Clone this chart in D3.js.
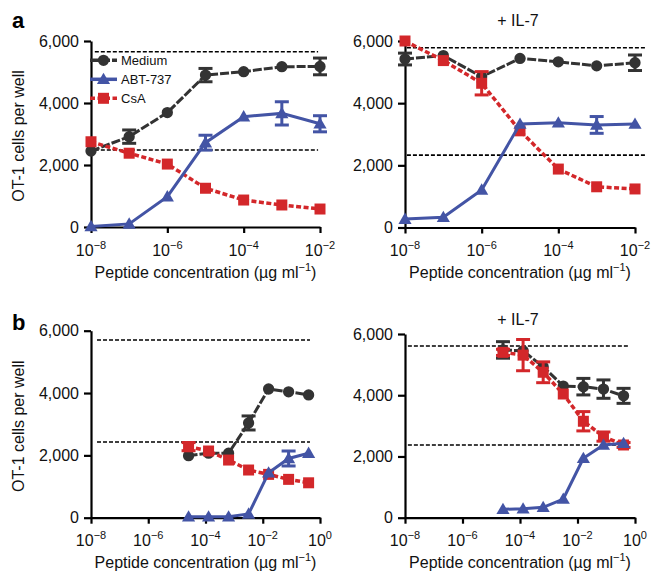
<!DOCTYPE html>
<html>
<head>
<meta charset="utf-8">
<script src="https://cdn.jsdelivr.net/npm/d3@7"></script>
<style>
  body { margin: 0; background: #fff; }
  svg { display: block; font-family: "Liberation Sans", Arial, Helvetica, sans-serif; }
</style>
</head>
<body>
<script>
// dose series (peptide concentration, ug/ml)
const xA = [1e-8, 1e-7, 1e-6, 1e-5, 1e-4, 1e-3, 1e-2];
const xB = [2.56e-5, 1.28e-4, 6.4e-4, 3.2e-3, 0.016, 0.08, 0.4];

// panel a, no cytokine
const aMedium    = [2450, 2915, 3690, 4900, 5010, 5170, 5180];
const aMediumErr = [0, 215, 0, 215, 0, 0, 270];
const aAbt       = [20, 100, 980, 2720, 3560, 3665, 3330];
const aAbtErr    = [0, 0, 0, 240, 0, 375, 260];
const aCsa       = [2750, 2380, 2030, 1250, 870, 710, 580];
const aCsaErr    = [0, 0, 0, 0, 0, 0, 0];
const aRef       = [5655, 2485];

// panel a, + IL-7
const aIlMedium    = [5420, 5530, 4850, 5440, 5330, 5200, 5300];
const aIlMediumErr = [190, 0, 0, 0, 0, 0, 250];
const aIlAbt       = [270, 330, 1210, 3330, 3370, 3300, 3330];
const aIlAbtErr    = [0, 0, 0, 0, 0, 270, 0];
const aIlCsa       = [6000, 5370, 4640, 3110, 1880, 1310, 1240];
const aIlCsaErr    = [0, 0, 375, 0, 0, 0, 0];
const aIlRef       = [5785, 2330];

// panel b, no cytokine
const bMedium    = [1990, 2070, 2070, 3040, 4130, 4040, 3940];
const bMediumErr = [0, 0, 0, 225, 0, 0, 0];
const bAbt       = [30, 30, 30, 120, 1440, 1900, 2070];
const bAbtErr    = [0, 0, 0, 0, 0, 240, 0];
const bCsa       = [2280, 2140, 1850, 1530, 1390, 1230, 1120];
const bCsaErr    = [130, 0, 0, 0, 0, 0, 0];
const bRef       = [5700, 2430];

// panel b, + IL-7
const bIlMedium    = [5480, 5450, 4930, 4300, 4280, 4200, 3980];
const bIlMediumErr = [270, 0, 0, 0, 270, 300, 245];
const bIlAbt       = [275, 290, 340, 610, 1940, 2375, 2430];
const bIlAbtErr    = [0, 0, 0, 0, 0, 0, 0];
const bIlCsa       = [5400, 5310, 4750, 4040, 3150, 2650, 2375];
const bIlCsaErr    = [100, 510, 340, 0, 315, 150, 80];
const bIlRef       = [5610, 2375];

const yTicks = [0, 2000, 4000, 6000];
const xTicksA = [1e-8, 1e-6, 1e-4, 1e-2];
const xTicksB = [1e-8, 1e-6, 1e-4, 1e-2, 1];

const legendNames = ["Medium", "ABT-737", "CsA"];

const colors = { medium: "#333333", abt: "#4354a5", csa: "#d3272a" };

const panels = [
  { letter: "a", letterY: 28, title: null, yTitle: true, x0: 91, x1: 320, yB: 227, yT: 41,
    xDomain: [1e-8, 1e-2], xTicks: xTicksA, xs: xA, refs: aRef, refSpan: [10 ** -7.9, 10 ** -2.05],
    medium: [aMedium, aMediumErr], abt: [aAbt, aAbtErr], csa: [aCsa, aCsaErr], legend: true },
  { letter: null, title: "+ IL-7", titleY: 26, yTitle: false, x0: 405, x1: 635, yB: 227.5, yT: 41,
    xDomain: [1e-8, 1e-2], xTicks: xTicksA, xs: xA, refs: aIlRef, refSpan: [10 ** -7.95, 10 ** -1.74],
    medium: [aIlMedium, aIlMediumErr], abt: [aIlAbt, aIlAbtErr], csa: [aIlCsa, aIlCsaErr] },
  { letter: "b", letterY: 330, title: null, yTitle: true, x0: 91, x1: 320, yB: 517.7, yT: 330.7,
    xDomain: [1e-8, 1], xTicks: xTicksB, xs: xB, refs: bRef, refSpan: [10 ** -7.79, 10 ** -0.35],
    medium: [bMedium, bMediumErr], abt: [bAbt, bAbtErr], csa: [bCsa, bCsaErr] },
  { letter: null, title: "+ IL-7", titleY: 325, yTitle: false, x0: 405, x1: 635, yB: 517.7, yT: 334,
    xDomain: [1e-8, 1], xTicks: xTicksB, xs: xB, refs: bIlRef, refSpan: [10 ** -7.9, 10 ** -0.18],
    medium: [bIlMedium, bIlMediumErr], abt: [bIlAbt, bIlAbtErr], csa: [bIlCsa, bIlCsaErr] }
];

const svg = d3.select("body").append("svg").attr("width", 651).attr("height", 572);

const markerPath = {
  medium: d3.symbol().type(d3.symbolCircle).size(100)(),
  abt: d3.symbol().type(d3.symbolTriangle).size(75)(),
  csa: d3.symbol().type(d3.symbolSquare).size(121)()
};
const dashes = { medium: "9,2", abt: null, csa: "5,2.5" };

panels.forEach(drawPanel);

function drawPanel(p) {
  const x = d3.scaleLog().domain(p.xDomain).range([p.x0, p.x1]);
  const y = d3.scaleLinear().domain([0, 6000]).range([p.yB, p.yT]);
  const g = svg.append("g");

  // reference levels
  g.append("g").selectAll("line").data(p.refs).join("line")
    .attr("x1", x(p.refSpan[0])).attr("x2", x(p.refSpan[1]))
    .attr("y1", d => y(d)).attr("y2", d => y(d))
    .attr("stroke", "#000").attr("stroke-width", 1.6).attr("stroke-dasharray", "4,2");

  // y axis
  const ya = g.append("g").attr("transform", `translate(${p.x0},0)`)
    .call(d3.axisLeft(y).tickValues(yTicks).tickFormat(d3.format(",")).tickSize(7).tickPadding(5).tickSizeOuter(0));
  // x axis
  const xa = g.append("g").attr("transform", `translate(0,${p.yB})`)
    .call(d3.axisBottom(x).tickValues(p.xTicks).tickFormat("").tickSize(6).tickSizeOuter(0));
  [ya, xa].forEach(a => {
    a.select(".domain").attr("stroke-width", 2.2);
    a.selectAll(".tick line").attr("stroke-width", 2.2);
    a.selectAll("text").attr("font-size", 16).attr("fill", "#111").attr("font-family", null);
  });

  // x tick labels 10^n
  const xl = g.append("g").selectAll("text").data(p.xTicks).join("text")
    .attr("x", d => x(d)).attr("y", p.yB + 28.5)
    .attr("text-anchor", "middle").attr("font-size", 16).attr("fill", "#111");
  xl.append("tspan").text("10");
  xl.append("tspan").attr("dy", -7).attr("font-size", 11)
    .text(d => { const e = Math.round(Math.log10(d)); return e < 0 ? "\u2212" + (-e) : String(e); });

  // x axis title
  const xt = g.append("text").attr("x", (p.x0 + p.x1) / 2).attr("y", p.yB + 50.5)
    .attr("text-anchor", "middle").attr("font-size", 16).attr("fill", "#111");
  xt.append("tspan").text("Peptide concentration (\u00b5g ml");
  xt.append("tspan").attr("dy", -7).attr("font-size", 11).text("\u22121");
  xt.append("tspan").attr("dy", 7).text(")");

  if (p.yTitle) {
    g.append("text")
      .attr("transform", `translate(24,${(p.yB + p.yT) / 2 + 2}) rotate(-90)`)
      .attr("text-anchor", "middle").attr("font-size", 16).attr("fill", "#111")
      .text("OT-1 cells per well");
  }
  if (p.letter) {
    g.append("text").attr("x", 12).attr("y", p.letterY)
      .attr("font-size", 22).attr("font-weight", "bold").attr("fill", "#000").text(p.letter);
  }
  if (p.title) {
    g.append("text").attr("x", (p.x0 + p.x1) / 2 - 2).attr("y", p.titleY)
      .attr("text-anchor", "middle").attr("font-size", 16).attr("fill", "#111").text(p.title);
  }

  // series: Medium, CsA, then ABT-737 on top
  ["medium", "csa", "abt"].forEach(key => {
    const [vals, errs] = p[key];
    const pts = vals.map((v, i) => ({ x: p.xs[i], y: v, e: errs[i] }));
    const c = colors[key];
    const sg = g.append("g");
    sg.append("path").datum(pts)
      .attr("d", d3.line().x(d => x(d.x)).y(d => y(d.y)))
      .attr("fill", "none").attr("stroke", c).attr("stroke-width", key === "csa" ? 3.5 : 3)
      .attr("stroke-dasharray", dashes[key]);
    const eb = sg.append("g").selectAll("g").data(pts.filter(d => d.e > 0)).join("g")
      .attr("stroke", c).attr("stroke-width", 3);
    eb.append("line").attr("x1", d => x(d.x)).attr("x2", d => x(d.x))
      .attr("y1", d => y(d.y - d.e)).attr("y2", d => y(d.y + d.e));
    eb.append("line").attr("x1", d => x(d.x) - 7).attr("x2", d => x(d.x) + 7)
      .attr("y1", d => y(d.y - d.e)).attr("y2", d => y(d.y - d.e));
    eb.append("line").attr("x1", d => x(d.x) - 7).attr("x2", d => x(d.x) + 7)
      .attr("y1", d => y(d.y + d.e)).attr("y2", d => y(d.y + d.e));
    sg.append("g").selectAll("path").data(pts).join("path")
      .attr("d", markerPath[key])
      .attr("transform", d => `translate(${x(d.x)},${y(d.y) + (key === "abt" ? 1 : 0)})`)
      .attr("fill", c);
  });

  if (p.legend) {
    const keys = ["medium", "abt", "csa"];
    const lg = g.append("g").attr("transform", `translate(${p.x0 - 1},${y(5700) + 10})`);
    keys.forEach((k, i) => {
      const row = lg.append("g").attr("transform", `translate(0,${i * 19})`);
      row.append("line").attr("x1", 0).attr("x2", 27).attr("stroke", colors[k]).attr("stroke-width", 3.5)
        .attr("stroke-dasharray", dashes[k]);
      row.append("path").attr("d", markerPath[k]).attr("transform", `translate(13.5,${k === "abt" ? 1 : 0})`).attr("fill", colors[k]);
      row.append("text").attr("x", 31).attr("dy", "0.35em").attr("font-size", 13).attr("fill", "#111").text(legendNames[i]);
    });
  }
}
</script>
</body>
</html>
